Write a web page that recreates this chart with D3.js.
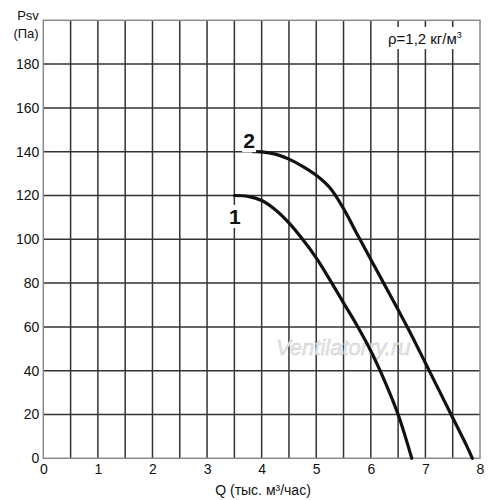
<!DOCTYPE html>
<html>
<head>
<meta charset="utf-8">
<script src="https://cdn.jsdelivr.net/npm/d3@7"></script>
<style>
  body { margin: 0; background: #fff; }
  text { font-family: "Liberation Sans", Arial, sans-serif; fill: #111; }
</style>
</head>
<body>
<script>
// data
const xTicks = [0, 1, 2, 3, 4, 5, 6, 7, 8];
const yTicks = [0, 20, 40, 60, 80, 100, 120, 140, 160, 180];
const curve1Q = [3.5, 3.75, 4.0, 4.25, 4.5, 4.75, 5.0, 5.25, 5.5, 5.75, 6.0, 6.25, 6.5, 6.75];
const curve1P = [120, 119.6, 117.7, 113.5, 107.5, 100, 91.5, 81.5, 71, 60.5, 49, 35.5, 20, 0];
const curve2Q = [3.85, 4.0, 4.25, 4.5, 4.75, 5.0, 5.25, 5.5, 5.75, 6.0, 6.25, 6.5, 6.75, 7.0, 7.25, 7.5, 7.75, 7.86];
const curve2P = [140, 139.9, 138.9, 136.6, 133.3, 129.2, 123.5, 114, 102.3, 90.8, 79.3, 67.8, 56, 43.5, 31, 18.5, 6, 0];

const svg = d3.select("body")
  .append("svg")
  .attr("width", 500)
  .attr("height", 500);

const padL = 43.3, padR = 480, padT = 20.3, padB = 458.3;

const x = d3.scaleLinear().domain([0, 8]).range([padL, padR]),
  y = d3.scaleLinear().domain([0, 200]).range([padB, padT]);

const g = svg.append("g");

// interior grid, every 0.5 on x and every 20 on y
g.selectAll(".vgrid")
  .data(d3.range(0.5, 8, 0.5))
  .enter().append("line")
  .attr("x1", d => x(d)).attr("x2", d => x(d))
  .attr("y1", y(0)).attr("y2", y(200))
  .attr("stroke", "#333").attr("stroke-width", 1.5);

g.selectAll(".hgrid")
  .data(d3.range(20, 200, 20))
  .enter().append("line")
  .attr("x1", x(0)).attr("x2", x(8))
  .attr("y1", d => y(d)).attr("y2", d => y(d))
  .attr("stroke", "#333").attr("stroke-width", 1.5);

// frame
g.append("rect")
  .attr("x", x(0)).attr("y", y(200))
  .attr("width", x(8) - x(0)).attr("height", y(0) - y(200))
  .attr("fill", "none")
  .attr("stroke", "#8a8a8a").attr("stroke-width", 1.5);

// watermark
svg.append("text")
  .attr("x", 276).attr("y", 355)
  .attr("font-size", "22px")
  .attr("font-style", "italic")
  .style("fill", "#e4e4e4")
  .style("stroke", "#cccccc").style("stroke-width", 0.4)
  .text("Ventilatorry.ru");

// axes (labels only, grid drawn above)
const xAxis = svg.append("g")
  .attr("transform", "translate(0," + padB + ")")
  .call(d3.axisBottom(x).tickValues(xTicks).tickSize(0).tickPadding(6));
const yAxis = svg.append("g")
  .attr("transform", "translate(" + padL + ",0)")
  .call(d3.axisLeft(y).tickValues(yTicks).tickSize(0).tickPadding(4));
[xAxis, yAxis].forEach(a => {
  a.select(".domain").remove();
  a.selectAll("text")
    .attr("font-size", "14px")
    .style("font-family", "\"Liberation Sans\", Arial, sans-serif")
    .style("fill", "#111");
});

svg.append("text")
  .attr("x", 263).attr("y", 495)
  .attr("text-anchor", "middle")
  .attr("font-size", "14px")
  .text("Q (тыс. м³/час)");

svg.append("text")
  .attr("x", 28).attr("y", 20)
  .attr("text-anchor", "middle")
  .attr("font-size", "13px")
  .text("Psv");
svg.append("text")
  .attr("x", 26).attr("y", 38)
  .attr("text-anchor", "middle")
  .attr("font-size", "13px")
  .text("(Па)");

// density note with white backing
svg.append("rect")
  .attr("x", 384).attr("y", 27).attr("width", 92).attr("height", 22)
  .attr("fill", "#fff");
const rho = svg.append("text")
  .attr("x", 388).attr("y", 44)
  .attr("font-size", "15px");
rho.append("tspan").text("ρ=1,2 кг/м");
rho.append("tspan").attr("dy", -6).attr("font-size", "9px").text("3");

// curves
const line = d3.line()
  .x(d => x(d[0]))
  .y(d => y(d[1]))
  .curve(d3.curveCatmullRom.alpha(0.5));

[[curve1Q, curve1P], [curve2Q, curve2P]].forEach(c => {
  svg.append("path")
    .datum(c[0].map((q, i) => [q, c[1][i]]))
    .attr("d", line)
    .attr("fill", "none")
    .attr("stroke", "#111")
    .attr("stroke-width", 3.2)
    .attr("stroke-linecap", "round");
});

// curve numbers
const labels = [
  { t: "1", q: 3.51, p: 107 },
  { t: "2", q: 3.77, p: 141.6 }
];
labels.forEach(l => {
  svg.append("rect")
    .attr("x", x(l.q) - 7).attr("y", y(l.p) - 19)
    .attr("width", 14).attr("height", 23)
    .attr("fill", "#fff");
  svg.append("text")
    .attr("x", x(l.q)).attr("y", y(l.p))
    .attr("text-anchor", "middle")
    .attr("font-size", "21px")
    .attr("font-weight", "bold")
    .text(l.t);
});
</script>
</body>
</html>
